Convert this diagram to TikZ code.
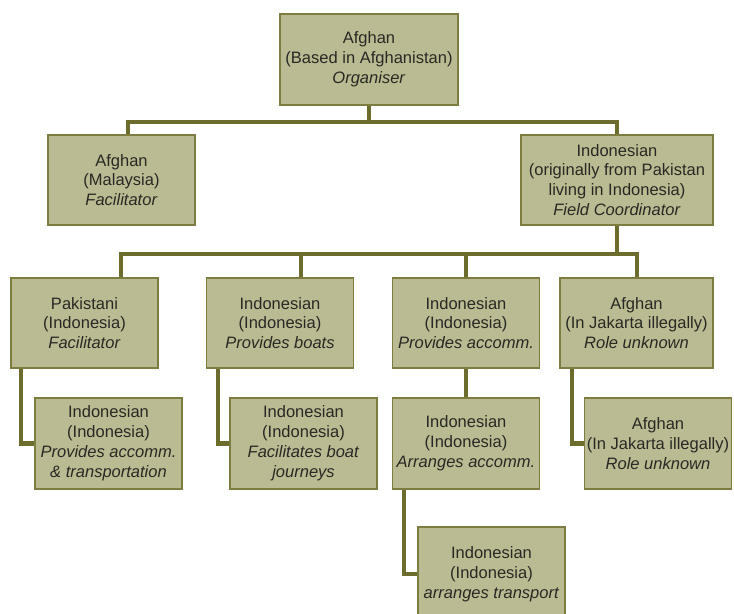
\documentclass[tikz,border=0pt]{standalone}
\usepackage{fontspec}
\setmainfont{Liberation Sans}
\usepackage{xcolor}
\definecolor{boxfill}{RGB}{187,187,147}
\definecolor{boxline}{RGB}{125,125,66}
\definecolor{linkcol}{RGB}{108,108,44}
\definecolor{txt}{RGB}{40,40,36}
\tikzset{
  every picture/.style={line join=miter},
  member/.style={draw=boxline, fill=boxfill, line width=0.8pt, text=txt,
    align=center, inner sep=0pt, minimum width=2.94cm, minimum height=1.8cm,
    font=\fontsize{9.4}{11.3}\selectfont},
  link/.style={draw=linkcol, line width=2.3pt},
}

\begin{document}
\begin{tikzpicture}[x=0.02cm,y=-0.02cm]
\useasboundingbox (0,0) rectangle (734,614);
% bus points
\coordinate (busa) at (369,122);
\coordinate (busb) at (617,254);
% top level
\node[member,minimum width=3.56cm,minimum height=1.82cm] (top) at (369,59.5)
  {Afghan\\(Based in Afghanistan)\\\textit{Organiser}};
\node[member] (mal) at (121.5,180) {Afghan\\(Malaysia)\\\textit{Facilitator}};
\node[member,minimum width=3.84cm] (fc) at (617,180)
  {Indonesian\\(originally from Pakistan\\living in Indonesia)\\\textit{Field Coordinator}};
% third row
\node[member] (pak) at (84.5,323) {Pakistani\\(Indonesia)\\\textit{Facilitator}};
\node[member] (boats) at (280,323) {Indonesian\\(Indonesia)\\\textit{Provides boats}};
\node[member] (acc) at (466,323) {Indonesian\\(Indonesia)\\\textit{Provides accomm.}};
\node[member,minimum width=3.06cm] (afg) at (636.5,323)
  {Afghan\\(In Jakarta illegally)\\\textit{Role unknown}};
% fourth row
\node[member,minimum height=1.82cm] (trans) at (108.5,443.5)
  {Indonesian\\(Indonesia)\\\textit{Provides accomm.}\\\textit{\& transportation}};
\node[member,minimum height=1.82cm] (jour) at (303.5,443.5)
  {Indonesian\\(Indonesia)\\\textit{Facilitates boat}\\\textit{journeys}};
\node[member,minimum height=1.82cm] (arr) at (466,443.5)
  {Indonesian\\(Indonesia)\\\textit{Arranges accomm.}};
\node[member,minimum height=1.82cm] (afgtwo) at (658,443.5)
  {Afghan\\(In Jakarta illegally)\\\textit{Role unknown}};
% last
\node[member,minimum height=1.88cm] (tr) at (491.5,574)
  {Indonesian\\(Indonesia)\\\textit{arranges transport}};

% links
\draw[link] (top.south) -- (busa);
\draw[link] (mal.north -| 128,0) |- (busa) -| (fc.north);
\draw[link] (fc.south) -- (busb);
\draw[link] (pak.north -| 121,0) |- (busb) -| (afg.north -| 637,0);
\draw[link] (boats.north -| 301,0) -- (busb -| 301,0);
\draw[link] (acc.north) -- (busb -| acc.north);
\draw[link] (pak.south west) ++(11,0) |- (trans.west);
\draw[link] (boats.south west) ++(12,0) |- (jour.west);
\draw[link] (acc.south) -- (arr.north);
\draw[link] (arr.south west) ++(12,0) |- (tr.west);
\draw[link] (afg.south west) ++(13,0) |- (afgtwo.west);
\end{tikzpicture}
\end{document}
